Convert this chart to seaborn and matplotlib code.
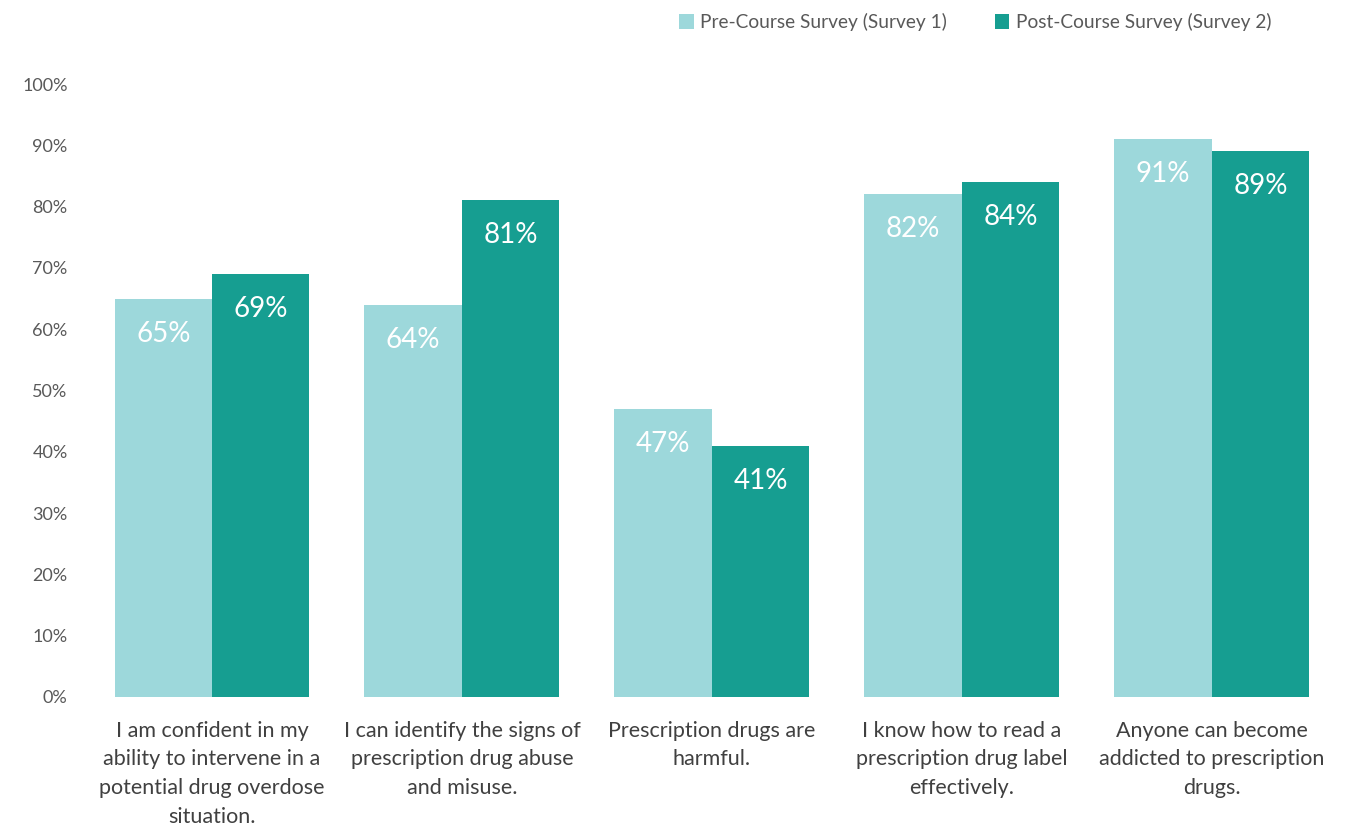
import matplotlib
matplotlib.use("Agg")
import matplotlib.pyplot as plt
import seaborn as sns
import pandas as pd
from matplotlib.patches import Patch

statements = [
    "I am confident in my\nability to intervene in a\npotential drug overdose\nsituation.",
    "I can identify the signs of\nprescription drug abuse\nand misuse.",
    "Prescription drugs are\nharmful.",
    "I know how to read a\nprescription drug label\neffectively.",
    "Anyone can become\naddicted to prescription\ndrugs.",
]
survey_names = ["Pre-Course Survey (Survey 1)", "Post-Course Survey (Survey 2)"]
pre_course = [65, 64, 47, 82, 91]
post_course = [69, 81, 41, 84, 89]
y_ticks = [0, 10, 20, 30, 40, 50, 60, 70, 80, 90, 100]

colors = ["#9DD8DB", "#169E91"]

df = pd.DataFrame({
    "statement": statements * 2,
    "survey": [survey_names[0]] * len(statements) + [survey_names[1]] * len(statements),
    "value": pre_course + post_course,
})

sns.set_theme(style="white")
plt.rcParams["font.family"] = ["Lato", "DejaVu Sans"]

fig = plt.figure(figsize=(13.51, 8.26), dpi=100)
ax = fig.add_axes([0.0644, 0.1562, 0.9252, 0.7421])

sns.barplot(data=df, x="statement", y="value", hue="survey", order=statements,
            hue_order=survey_names, palette=colors, width=0.78, saturation=1,
            edgecolor="none", linewidth=0, legend=False, ax=ax)

# value labels sit inside each bar, just below its top
for container in ax.containers:
    for bar in container:
        h = bar.get_height()
        ax.annotate(f"{h:.0f}%", (bar.get_x() + bar.get_width() / 2, h),
                    xytext=(0, -35), textcoords="offset pixels",
                    ha="center", va="center", color="white", fontsize=20)

ax.set_xlim(-0.5, len(statements) - 0.5)
ax.set_ylim(0, 100)
ax.set_yticks(y_ticks)
ax.set_yticklabels([f"{t}%" for t in y_ticks])
ax.set_xlabel("")
ax.set_ylabel("")
ax.tick_params(axis="y", labelsize=13, colors="#595959", length=0, pad=14)
ax.tick_params(axis="x", labelsize=15.5, colors="#404040", length=0, pad=17)
for lbl in ax.get_xticklabels():
    lbl.set_linespacing(1.55)
for spine in ax.spines.values():
    spine.set_visible(False)
ax.grid(False)

handles = [Patch(facecolor=c, edgecolor="none") for c in colors]
fig.legend(handles, survey_names, loc="upper right", bbox_to_anchor=(0.954, 1.005),
           ncol=2, frameon=False, fontsize=13.8, labelcolor="#595959",
           handlelength=0.75, handleheight=0.75, handletextpad=0.35, columnspacing=2.5)

fig.savefig("out.png", dpi=100)
